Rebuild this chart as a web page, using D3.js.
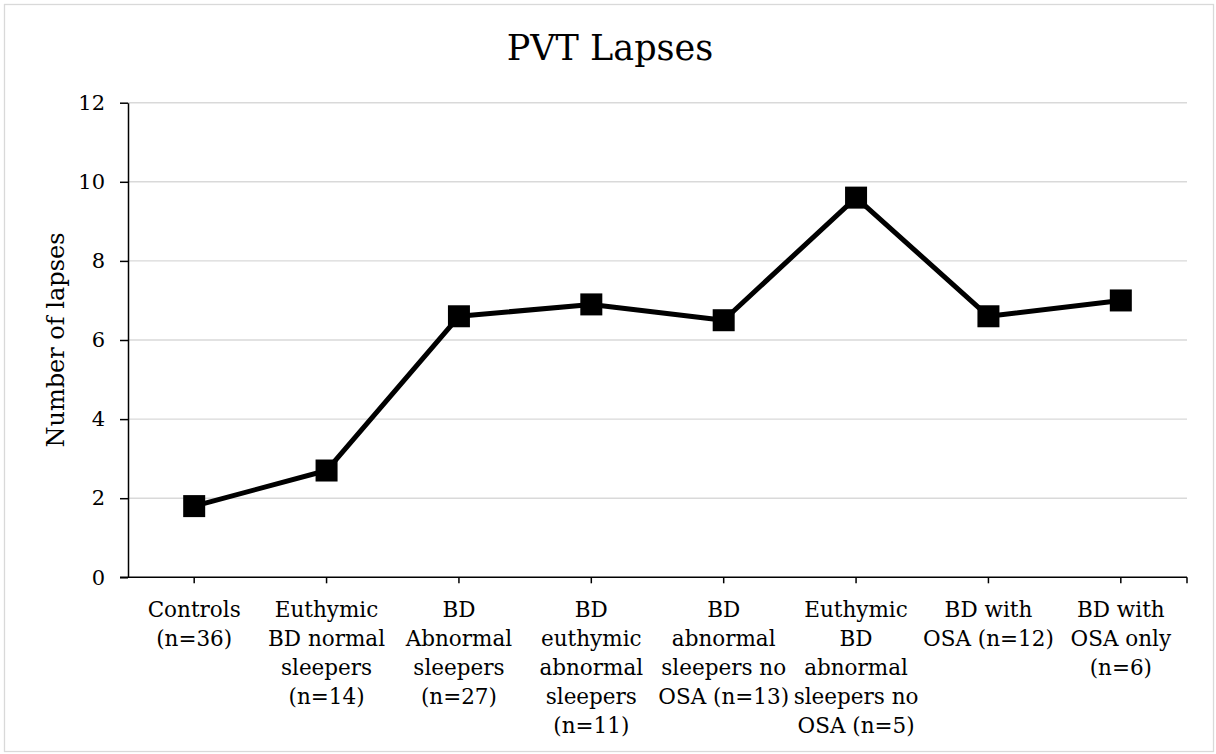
<!DOCTYPE html>
<html>
<head>
<meta charset="utf-8">
<script src="https://cdn.jsdelivr.net/npm/d3@7"></script>
<style>
  html, body { margin: 0; padding: 0; background: #fff; }
  svg { display: block; }
  text { font-family: "DejaVu Serif", "Liberation Serif", serif; fill: #000; }
</style>
</head>
<body>
<svg id="chart" width="1216" height="754"></svg>
<script>
// Group labels, one entry per wrapped line
const categories = [
  ["Controls", "(n=36)"],
  ["Euthymic", "BD normal", "sleepers", "(n=14)"],
  ["BD", "Abnormal", "sleepers", "(n=27)"],
  ["BD", "euthymic", "abnormal", "sleepers", "(n=11)"],
  ["BD", "abnormal", "sleepers no", "OSA (n=13)"],
  ["Euthymic", "BD", "abnormal", "sleepers no", "OSA (n=5)"],
  ["BD with", "OSA (n=12)"],
  ["BD with", "OSA only", "(n=6)"]
];
// Mean number of PVT lapses per group
const lapses = [1.8, 2.7, 6.6, 6.9, 6.5, 9.6, 6.6, 7.0];
const yTicks = [0, 2, 4, 6, 8, 10, 12];
const title = "PVT Lapses";
const yTitle = "Number of lapses";

const svg = d3.select("#chart");
const plot = { left: 128, right: 1187, top: 102.7, bottom: 577.3 };

// Outer chart border
svg.append("rect")
  .attr("x", 4.5).attr("y", 4.5)
  .attr("width", 1209).attr("height", 747)
  .attr("fill", "#fff").attr("stroke", "#d9d9d9").attr("stroke-width", 1.3);

const keys = categories.map((d, i) => i);
const x = d3.scaleBand().domain(keys).range([plot.left, plot.right]);
const y = d3.scaleLinear().domain([0, 12]).range([plot.bottom, plot.top]);

// Horizontal gridlines
svg.append("g").selectAll("line")
  .data(yTicks.filter(t => t > 0))
  .join("line")
  .attr("x1", plot.left).attr("x2", plot.right)
  .attr("y1", d => y(d)).attr("y2", d => y(d))
  .attr("stroke", "#d9d9d9").attr("stroke-width", 1.4);

// Y axis
const yAxis = svg.append("g")
  .attr("transform", `translate(${plot.left},0)`)
  .call(d3.axisLeft(y).tickValues(yTicks).tickSize(8).tickSizeOuter(0).tickPadding(15));
yAxis.select(".domain").attr("stroke", "#000").attr("stroke-width", 1.5);
yAxis.selectAll(".tick line").attr("stroke", "#000").attr("stroke-width", 1.5);
yAxis.selectAll(".tick text")
  .style("font-family", '"DejaVu Serif", serif')
  .style("font-size", "21px").attr("fill", "#000");

// X axis: ticks at each group centre plus one at the axis end
const xAxisG = svg.append("g").attr("transform", `translate(0,${plot.bottom})`);
xAxisG.append("line")
  .attr("x1", plot.left - 8).attr("x2", plot.right)
  .attr("stroke", "#000").attr("stroke-width", 1.5);
const tickXs = keys.map(k => x(k) + x.bandwidth() / 2).concat([plot.right]);
xAxisG.selectAll("line.tk")
  .data(tickXs)
  .join("line").attr("class", "tk")
  .attr("x1", d => d).attr("x2", d => d)
  .attr("y1", 0).attr("y2", 6)
  .attr("stroke", "#000").attr("stroke-width", 1.5);

// Category labels, centred under each group
const labelG = svg.append("g");
categories.forEach((lines, i) => {
  const t = labelG.append("text")
    .attr("text-anchor", "middle")
    .attr("font-size", 21.5);
  lines.forEach((ln, j) => {
    t.append("tspan")
      .attr("x", x(i) + x.bandwidth() / 2)
      .attr("y", 617 + j * 29)
      .text(ln);
  });
});

// Series line
const line = d3.line()
  .x((d, i) => x(i) + x.bandwidth() / 2)
  .y(d => y(d));
svg.append("path")
  .datum(lapses)
  .attr("d", line)
  .attr("fill", "none")
  .attr("stroke", "#000")
  .attr("stroke-width", 5)
  .attr("stroke-linejoin", "round");

// Square markers
const ms = 22;
svg.append("g").selectAll("rect")
  .data(lapses)
  .join("rect")
  .attr("x", (d, i) => x(i) + x.bandwidth() / 2 - ms / 2)
  .attr("y", d => y(d) - ms / 2)
  .attr("width", ms).attr("height", ms)
  .attr("fill", "#000");

// Titles
svg.append("text")
  .attr("x", 610).attr("y", 59.5)
  .attr("text-anchor", "middle")
  .attr("font-size", 35)
  .text(title);

svg.append("text")
  .attr("transform", `translate(64,${(plot.top + plot.bottom) / 2}) rotate(-90)`)
  .attr("text-anchor", "middle")
  .attr("font-size", 24)
  .text(yTitle);
</script>
</body>
</html>
